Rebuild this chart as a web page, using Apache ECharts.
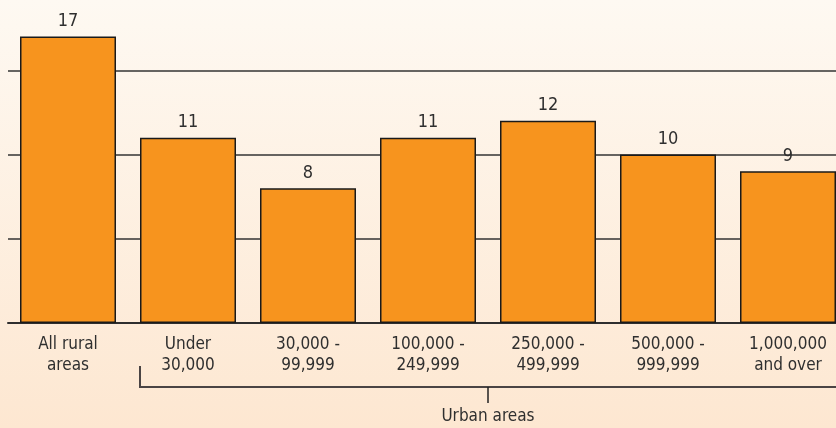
<!DOCTYPE html>
<html><head><meta charset="utf-8">
<script src="https://cdn.jsdelivr.net/npm/echarts@6/dist/echarts.min.js"></script>
<style>html,body{margin:0;padding:0;}#c{width:836px;height:428px;}</style>
</head><body><div id="c"></div>
<script>
const categories = ['All rural\nareas','Under\n30,000','30,000 -\n99,999','100,000 -\n249,999','250,000 -\n499,999','500,000 -\n999,999','1,000,000\nand over'];
const values = [17, 11, 8, 11, 12, 10, 9];
const groupLabel = 'Urban areas';
const FONT = "'Liberation Sans Narrow','DejaVu Sans Condensed','Roboto Condensed',sans-serif";

const chart = echarts.init(document.getElementById('c'));
chart.setOption({
  backgroundColor: {type:'linear', x:0, y:0, x2:0, y2:1, colorStops:[{offset:0,color:'#FEF9F2'},{offset:1,color:'#FDE7D1'}]},
  animation:false,
  grid:{left:8, width:840, top:-14, height:337, containLabel:false, outerBoundsMode:'none'},
  xAxis:{type:'category', data:categories,
    axisLine:{lineStyle:{color:'#2e2e2e', width:2}},
    axisTick:{show:false},
    axisLabel:{color:'#2f2f2f', fontFamily:FONT, fontSize:17, lineHeight:21, margin:11, interval:0}
  },
  yAxis:{type:'value', min:0, max:20, interval:5,
    axisLine:{show:false}, axisTick:{show:false}, axisLabel:{show:false},
    splitLine:{lineStyle:{color:'#333', width:1.5}}
  },
  series:[{type:'bar', data:values, barWidth:96,
    itemStyle:{color:'#F7941E', borderColor:'#1a1a1a', borderWidth:1.5},
    label:{show:true, position:'top', distance:6, color:'#2f2f2f', fontFamily:FONT, fontSize:18}
  }]
});

function drawBracket(){
  const p1 = chart.convertToPixel({xAxisIndex:0}, 1);
  const pLast = chart.convertToPixel({xAxisIndex:0}, categories.length-1);
  const half = 48;
  const left = p1 - half;
  const right = pLast + half + 20;
  const cx = (left + pLast + half)/2;
  const yLine = 387;
  chart.setOption({graphic:[
    {type:'polyline', shape:{points:[[left,366],[left,yLine],[right,yLine]]}, style:{stroke:'#4a4444', lineWidth:2, fill:null}, silent:true},
    {type:'line', shape:{x1:cx, y1:yLine, x2:cx, y2:403}, style:{stroke:'#222', lineWidth:1.5}, silent:true},
    {type:'text', x:cx, y:417, style:{text:groupLabel, fill:'#2f2f2f', font:'17px '+FONT, textAlign:'center', textVerticalAlign:'middle'}, silent:true}
  ]});
}
drawBracket();
</script></body></html>
